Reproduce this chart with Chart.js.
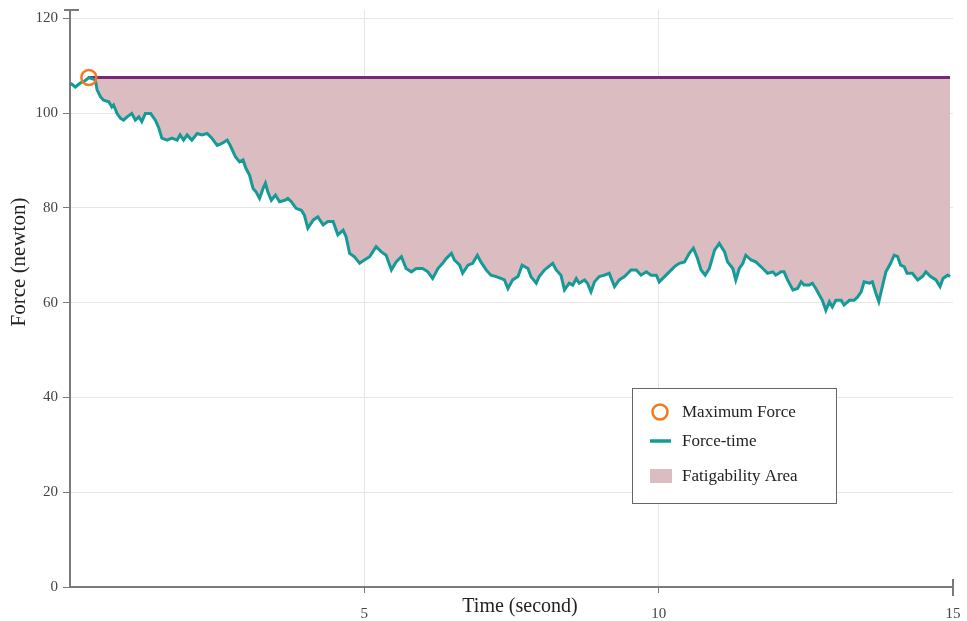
<!DOCTYPE html>
<html><head><meta charset="utf-8">
<script src="https://cdn.jsdelivr.net/npm/chart.js@4.4.1/dist/chart.umd.min.js"></script>
<style>html,body{margin:0;padding:0;background:#fff;}</style>
</head><body>
<canvas id="c" width="967" height="621"></canvas>
<script>
// ---- data ----
const timeSeconds = [
0.01,0.09,0.18,0.25,0.32,0.43,0.46,0.52,0.57,0.66,
0.71,0.74,0.80,0.86,0.91,0.97,1.05,1.11,1.17,1.22,
1.28,1.37,1.45,1.51,1.56,1.65,1.73,1.82,1.87,1.93,
1.99,2.07,2.16,2.24,2.33,2.41,2.50,2.58,2.67,2.72,
2.81,2.88,2.94,2.99,3.05,3.11,3.16,3.22,3.28,3.32,
3.36,3.42,3.49,3.56,3.65,3.70,3.76,3.84,3.93,3.98,
4.04,4.13,4.21,4.30,4.38,4.47,4.55,4.64,4.69,4.75,
4.83,4.92,5.00,5.09,5.20,5.29,5.37,5.46,5.54,5.63,
5.71,5.80,5.88,5.99,6.08,6.16,6.25,6.33,6.39,6.48,
6.53,6.62,6.67,6.76,6.84,6.92,6.98,7.07,7.15,7.24,
7.32,7.38,7.44,7.52,7.61,7.68,7.78,7.83,7.92,7.97,
8.06,8.13,8.20,8.26,8.34,8.40,8.48,8.54,8.60,8.65,
8.74,8.79,8.85,8.91,8.99,9.08,9.16,9.25,9.33,9.42,
9.53,9.62,9.70,9.79,9.87,9.96,10.01,10.10,10.18,10.27,
10.35,10.44,10.52,10.59,10.66,10.72,10.79,10.86,10.95,11.03,
11.12,11.17,11.26,11.31,11.37,11.43,11.48,11.57,11.65,11.77,
11.85,11.94,11.99,12.08,12.13,12.19,12.28,12.36,12.42,12.47,
12.56,12.61,12.67,12.73,12.78,12.84,12.90,12.95,13.01,13.10,
13.15,13.24,13.32,13.38,13.44,13.49,13.58,13.63,13.69,13.74,
13.80,13.86,13.94,14.00,14.06,14.11,14.17,14.22,14.31,14.40,
14.48,14.54,14.62,14.71,14.78,14.83,14.91,14.95
];
const forceNewton = [
106.3,105.5,106.4,106.8,107.5,107.0,104.9,103.4,102.7,102.4,
101.3,101.7,99.9,98.9,98.5,99.2,99.9,98.5,99.2,98.2,
99.9,99.9,98.5,96.8,94.7,94.3,94.7,94.3,95.4,94.3,
95.4,94.3,95.7,95.4,95.7,94.7,93.2,93.6,94.3,93.2,
90.8,89.7,90.1,88.3,86.9,84.1,83.4,82.0,84.1,85.2,
83.4,81.6,82.7,81.3,81.6,82.0,81.3,79.9,79.5,78.5,
75.7,77.4,78.1,76.4,77.1,77.1,74.3,75.3,73.9,70.4,
69.7,68.3,69.0,69.7,71.8,70.7,70.0,66.9,68.6,69.7,
67.2,66.5,67.2,67.2,66.5,65.1,67.2,68.3,69.3,70.4,
69.0,67.9,66.2,67.9,68.3,70.0,68.6,66.9,65.8,65.5,
65.1,64.8,63.0,64.8,65.5,67.9,67.2,65.5,64.1,65.5,
66.9,67.6,68.3,66.9,65.8,62.7,64.1,63.7,65.1,64.1,
64.8,64.1,62.3,64.4,65.5,65.8,66.2,63.4,64.8,65.5,
66.9,66.9,65.8,66.5,65.8,65.8,64.4,65.5,66.5,67.6,
68.3,68.6,70.4,71.5,69.3,66.9,65.8,67.2,71.1,72.5,
70.7,68.6,67.2,64.8,67.2,68.3,70.0,69.0,68.6,67.2,
66.2,66.5,65.8,66.5,66.5,64.8,62.7,63.0,64.4,63.7,
63.7,64.1,63.0,61.6,60.5,58.4,60.2,59.1,60.5,60.5,
59.5,60.5,60.5,61.2,62.3,64.4,64.1,64.4,62.0,60.2,
63.4,66.5,68.3,70.0,69.7,67.9,67.6,66.2,66.2,64.8,
65.5,66.5,65.5,64.8,63.4,65.1,65.8,65.5
];
const maxForceTime = 0.32;
const maxForceValue = 107.5;
const maxLineEndTime = 14.95;
const xTickValues = [0, 5, 10, 15];
const yTickValues = [0, 20, 40, 60, 80, 100, 120];
const legendLabels = ['Maximum Force', 'Force-time', 'Fatigability Area'];
const xTitle = 'Time (second)';
const yTitle = 'Force (newton)';

// ---- styles ----
const TEAL = '#159a98', PURPLE = '#76287a', PINK = '#dbbdc1', ORANGE = '#f4781f';
const AXIS = '#7a7a7a', GRID = '#e6e6e6';
const SERIF = '"Liberation Serif", "Times New Roman", serif';

const curvePoints = timeSeconds.map((t, i) => ({x: t, y: forceNewton[i]}));
const maxLinePoints = [{x: maxForceTime, y: maxForceValue}, {x: maxLineEndTime, y: maxForceValue}];

const extras = {
  id: 'extras',
  afterDraw(chart) {
    const {ctx, chartArea: a} = chart;
    ctx.save();
    // axis caps
    ctx.strokeStyle = AXIS; ctx.lineWidth = 2;
    ctx.beginPath(); ctx.moveTo(a.left - 6, a.top); ctx.lineTo(a.left + 9, a.top); ctx.stroke();
    ctx.beginPath(); ctx.moveTo(a.right, a.bottom - 8); ctx.lineTo(a.right, a.bottom + 9); ctx.stroke();
    // axis titles
    ctx.fillStyle = '#222';
    ctx.font = '20px ' + SERIF;
    ctx.textAlign = 'center'; ctx.textBaseline = 'middle';
    ctx.fillText(xTitle, 520, 607);
    ctx.save(); ctx.translate(19, 262); ctx.rotate(-Math.PI / 2);
    ctx.font = '21px ' + SERIF;
    ctx.fillText(yTitle, 0, 0); ctx.restore();
    // legend
    const bx = 632, by = 388, bw = 204, bh = 115;
    ctx.fillStyle = '#fff'; ctx.fillRect(bx, by, bw, bh);
    ctx.strokeStyle = '#666'; ctx.lineWidth = 1;
    ctx.strokeRect(bx + 0.5, by + 0.5, bw, bh);
    const rows = [by + 24, by + 53, by + 88];
    ctx.strokeStyle = ORANGE; ctx.lineWidth = 2.5;
    ctx.beginPath(); ctx.arc(bx + 28, rows[0], 7.5, 0, Math.PI * 2); ctx.stroke();
    ctx.strokeStyle = TEAL; ctx.lineWidth = 3.5;
    ctx.beginPath(); ctx.moveTo(bx + 18, rows[1]); ctx.lineTo(bx + 39, rows[1]); ctx.stroke();
    ctx.fillStyle = PINK; ctx.fillRect(bx + 18, rows[2] - 7, 22, 14);
    ctx.fillStyle = '#222'; ctx.font = '17px ' + SERIF;
    ctx.textAlign = 'left'; ctx.textBaseline = 'middle';
    legendLabels.forEach((t, i) => ctx.fillText(t, bx + 50, rows[i] + 1));
    ctx.restore();
  }
};

new Chart(document.getElementById('c'), {
  type: 'line',
  data: {
    datasets: [
      { label: legendLabels[0], data: [{x: maxForceTime, y: maxForceValue}], showLine: false,
        pointRadius: 7.5, pointBorderWidth: 2.5, pointBorderColor: ORANGE,
        pointBackgroundColor: 'rgba(0,0,0,0)', fill: false },
      { label: legendLabels[1], data: curvePoints, borderColor: TEAL, borderWidth: 3,
        pointRadius: 0, tension: 0, fill: false },
      { label: 'max', data: maxLinePoints, borderColor: PURPLE, borderWidth: 3,
        pointRadius: 0, fill: false },
      { label: legendLabels[2], data: maxLinePoints, borderWidth: 0, borderColor: 'rgba(0,0,0,0)',
        backgroundColor: PINK, pointRadius: 0, fill: {target: 1, above: PINK, below: PINK} }
    ]
  },
  options: {
    responsive: false, animation: false, devicePixelRatio: 1,
    layout: {padding: {top: 10, right: 14, left: 0, bottom: 0}},
    plugins: {legend: {display: false}, tooltip: {enabled: false}},
    scales: {
      x: {
        type: 'linear', min: 0, max: 15,
        afterBuildTicks: s => { s.ticks = xTickValues.map(v => ({value: v})); },
        afterFit: s => { s.height = 34; s.paddingLeft = 0; s.paddingRight = 0; },
        ticks: { callback: v => (v === 0 ? '' : String(v)), color: '#444',
                 font: {family: SERIF, size: 15}, padding: 12, maxRotation: 0 },
        grid: { color: c => (c.tick && (c.tick.value === 0 || c.tick.value === 15)) ? 'rgba(0,0,0,0)' : GRID,
                tickColor: c => (c.tick && (c.tick.value === 5 || c.tick.value === 10)) ? AXIS : 'rgba(0,0,0,0)',
                tickLength: 6, lineWidth: 1 },
        border: {color: AXIS, width: 2}
      },
      y: {
        type: 'linear', min: 0, max: 121.75,
        afterBuildTicks: s => { s.ticks = yTickValues.map(v => ({value: v})); },
        afterFit: s => { s.width = 70; s.paddingTop = 0; s.paddingBottom = 0; },
        ticks: { color: '#444', font: {family: SERIF, size: 15}, padding: 5 },
        grid: { color: c => (c.tick && c.tick.value === 0) ? 'rgba(0,0,0,0)' : GRID,
                tickColor: AXIS, tickLength: 7, lineWidth: 1 },
        border: {color: AXIS, width: 2}
      }
    }
  },
  plugins: [extras]
});
</script>
</body></html>
